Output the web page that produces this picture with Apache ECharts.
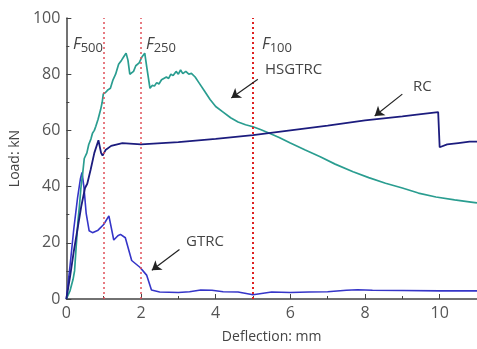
<!DOCTYPE html>
<html><head><meta charset="utf-8">
<script src="https://cdn.jsdelivr.net/npm/echarts@6/dist/echarts.min.js"></script>
<style>html,body{margin:0;padding:0;background:#fff}#c{width:477px;height:349px}</style>
</head><body><div id="c"></div>
<script>
const xTicks = [0, 2, 4, 6, 8, 10];
const yTicks = [0, 20, 40, 60, 80, 100];
const limitLines = [1, 2, 5];
const limitNames = ['500', '250', '100'];

const hsgtrc = [[0,0],[0.1,3],[0.18,7],[0.22,10],[0.26,18],[0.31,27.5],[0.35,33],[0.39,39.5],[0.44,45],[0.48,50],[0.55,52],[0.6,55],[0.66,57],[0.7,59],[0.75,60],[0.79,61.5],[0.85,64],[0.92,67.5],[0.96,70],[0.99,73],[1.05,73.5],[1.12,74.5],[1.18,75],[1.25,78],[1.32,80],[1.4,83.5],[1.48,85],[1.55,86.5],[1.6,87.5],[1.65,85],[1.7,80],[1.75,79.5],[1.8,81],[1.86,83],[1.95,84],[2.02,86],[2.1,87.5],[2.16,82],[2.24,75],[2.3,76],[2.36,75.8],[2.42,77],[2.48,76.5],[2.55,78],[2.6,77.5],[2.68,79],[2.74,78.5],[2.8,80],[2.86,79.5],[2.94,81],[3.0,80],[3.06,81.5],[3.12,80.2],[3.2,81],[3.28,80],[3.35,80.3],[3.45,79],[3.55,77],[3.7,74],[3.85,71],[4.0,68.5],[4.2,66.5],[4.4,64.5],[4.6,63],[4.8,62],[5.0,61.3],[5.2,60.3],[5.47,58.8],[5.7,57.5],[6.0,55.5],[6.4,53],[6.8,50.6],[7.2,48],[7.68,45.3],[8.1,43.2],[8.55,41.2],[9.0,39.5],[9.43,37.7],[9.9,36.3],[10.4,35.3],[10.84,34.5],[11,34.2]];

const rc = [[0,0],[0.1,8],[0.2,17],[0.3,25],[0.4,33],[0.5,39.5],[0.56,41],[0.65,46],[0.75,52],[0.86,56.5],[0.93,52],[0.97,51],[1.05,53],[1.2,54.5],[1.5,55.5],[2,55],[3,55.8],[4,57],[5,58.3],[6,60],[7,61.7],[8,63.6],[9,65],[9.5,65.8],[9.96,66.5],[10.0,54],[10.2,55],[10.5,55.5],[10.8,56],[11,56]];

const gtrc = [[0,0],[0.1,12],[0.2,25],[0.3,36],[0.38,43],[0.42,45],[0.47,40],[0.53,30.6],[0.61,24.3],[0.7,23.6],[0.85,24.5],[1.0,26.5],[1.14,29.6],[1.27,21],[1.38,22.5],[1.45,23],[1.58,21.8],[1.75,13.7],[1.97,11.3],[2.15,8.5],[2.28,3.2],[2.5,2.5],[3,2.3],[3.3,2.6],[3.6,3.2],[3.9,3.1],[4.2,2.6],[4.6,2.5],[5.0,1.5],[5.5,2.5],[6,2.3],[6.5,2.5],[7,2.6],[7.5,3.1],[7.8,3.3],[8.2,3.1],[9,3.0],[10,2.9],[11,2.9]];

// annotation arrows [from, to] in data units
const arrows = [
  [[5.13,78.2],[4.42,71.5]],
  [[9.0,72.9],[8.26,65.1]],
  [[3.03,17.6],[2.29,10.2]]
];

const FONT = '"Open Sans", "DejaVu Sans", sans-serif';
const chart = echarts.init(document.getElementById('c'), null, {renderer:'canvas'});

const limitMark = {
  silent: true, symbol: ['none','none'], label: {show:false},
  data: limitLines.map((x,i) => [
    {coord:[x,0], lineStyle:{color: i===2 ? '#e02020' : '#e0505a', width: i===2 ? 2 : 1.5, type:[2,3]}},
    {coord:[x,100]}
  ])
};
const arrowMark = {
  silent: true, symbol: ['none','arrow'], symbolSize: 9, label:{show:false},
  lineStyle:{color:'#222', width:1.2, type:'solid'},
  data: arrows.map(a => [{coord:a[0]},{coord:a[1]}])
};

chart.setOption({
  animation: false,
  grid: {left: 65, top: 18, width: 418, height: 284, containLabel: false},
  xAxis: {
    type:'value', min:0, max:11, interval:2,
    name:'Deflection: mm', nameLocation:'middle', nameGap:31,
    nameTextStyle:{fontFamily:FONT, fontSize:14, color:'#444'},
    axisLine:{lineStyle:{color:'#444', width:1.5}},
    axisTick:{inside:true, length:5, lineStyle:{color:'#444'}},
    minorTick:{show:true, splitNumber:2, length:3, lineStyle:{color:'#444'}},
    axisLabel:{fontFamily:FONT, fontSize:16, color:'#555', margin:6, showMaxLabel:false,
      formatter: v => xTicks.includes(v) ? String(v) : ''},
    splitLine:{show:false}
  },
  yAxis: {
    type:'value', min:0, max:100, interval:20,
    name:'Load: kN', nameLocation:'middle', nameGap:35,
    nameTextStyle:{fontFamily:FONT, fontSize:14, color:'#444'},
    axisLine:{show:true, lineStyle:{color:'#444', width:1.5}},
    axisTick:{show:true, inside:true, length:5, lineStyle:{color:'#444'}},
    minorTick:{show:true, splitNumber:2, length:3, lineStyle:{color:'#444'}},
    axisLabel:{fontFamily:FONT, fontSize:16, color:'#555', margin:6,
      formatter: v => yTicks.includes(v) ? String(v) : ''},
    splitLine:{show:false}
  },
  series: [
    {name:'HSGTRC', type:'line', data:hsgtrc, showSymbol:false, lineStyle:{color:'#2a9d90', width:1.7}, z:3, markLine: limitMark},
    {name:'RC', type:'line', data:rc, showSymbol:false, lineStyle:{color:'#1c1c7e', width:1.8}, z:4, markLine: arrowMark},
    {name:'GTRC', type:'line', data:gtrc, showSymbol:false, lineStyle:{color:'#3535c8', width:1.6}, z:2}
  ],
  graphic: [
    ...limitNames.map((n,i) => ({
      type:'text', left: [73,146,262][i], top: 34,
      style:{
        text:'{f|F}{s|' + n + '}',
        rich:{
          f:{fontFamily:FONT, fontSize:16, fontStyle:'italic', fill:'#444', lineHeight:20},
          s:{fontFamily:FONT, fontSize:13, fill:'#444', padding:[8,0,0,0], lineHeight:20}
        }
      }
    })),
    {type:'text', left:265, top:62, style:{text:'HSGTRC', fontFamily:FONT, fontSize:15, fill:'#444'}},
    {type:'text', left:413, top:79, style:{text:'RC', fontFamily:FONT, fontSize:15, fill:'#444'}},
    {type:'text', left:186, top:234, style:{text:'GTRC', fontFamily:FONT, fontSize:15, fill:'#444'}}
  ]
});
</script></body></html>
